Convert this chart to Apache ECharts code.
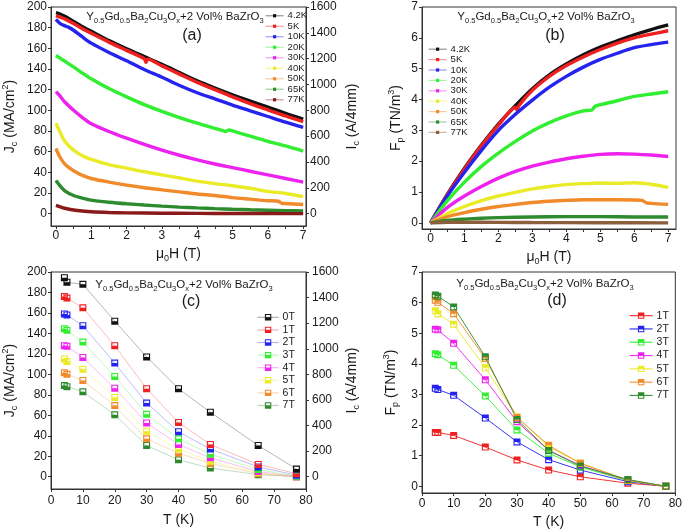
<!DOCTYPE html>
<html><head><meta charset="utf-8">
<script src="https://cdn.jsdelivr.net/npm/echarts@6/dist/echarts.min.js"></script>
<style>html,body{margin:0;padding:0;background:#fff}#c{width:685px;height:531px}</style>
</head><body><div id="c"></div>
<script>
// ---------- DATA ----------
// Panel (a): Jc (MA/cm2) vs mu0H (T), pairs [H, Jc]
const jcA_4K2 = [[0,194.5],[0.1,193.5],[0.25,191],[0.5,186],[0.75,181],[1,176.5],[1.5,167.5],[2,159.5],[2.5,152],[3,144.5],[3.5,136.5],[4,128.5],[4.5,121.5],[5,115],[5.5,109],[6,103],[6.5,97],[7,91.5]];
const jcA_5K = [[0,191.5],[0.1,190.5],[0.25,188.5],[0.5,184],[0.75,179],[1,174.5],[1.5,166],[2,158],[2.5,150],[2.55,146.5],[2.6,149.5],[3,143],[3.5,135],[4,127],[4.5,120],[5,113],[5.5,106.5],[6,100.5],[6.5,94.5],[7,89]];
const jcA_10K = [[0,188],[0.1,184.5],[0.2,182.5],[0.35,180.5],[0.5,177.5],[0.75,171],[1,165],[1.5,156],[2,148],[2.5,139.5],[3,132],[3.5,124],[4,117],[4.5,111],[5,105],[5.5,99.5],[6,94],[6.5,88.5],[7,83.5]];
const jcA_20K = [[0,153],[0.25,147.5],[0.5,142],[0.75,136],[1,130.5],[1.5,121],[2,113],[2.5,105.5],[3,99],[3.5,93],[4,87.5],[4.5,82.5],[4.75,80],[4.8,79.5],[4.9,81],[5,80],[5.5,75],[6,70],[6.5,65.5],[7,60.5]];
const jcA_30K = [[0,118],[0.1,114.5],[0.25,108],[0.5,100],[0.75,93],[1,87],[1.5,79.5],[2,73],[2.5,67],[3,61.5],[3.5,56.5],[4,52],[4.5,48],[5,44.5],[5.5,41],[6,37.5],[6.5,34],[7,30.5]];
const jcA_40K = [[0,87.5],[0.1,80],[0.25,70],[0.5,61.5],[0.75,56],[1,52.5],[1.5,47.5],[2,44],[2.5,40.5],[3,37.5],[3.5,34.5],[4,31.5],[4.5,29],[5,27],[5.5,24.5],[6,21.5],[6.5,19.5],[7,16.5]];
const jcA_50K = [[0,63],[0.1,55.5],[0.25,48],[0.5,41.5],[0.75,37],[1,34],[1.5,30.5],[2,27.5],[2.5,25],[3,23],[3.5,21],[4,19],[4.5,17.5],[5,15.5],[5.5,14],[6,12.5],[6.3,12],[6.4,10],[6.5,9.8],[7,8.8]];
const jcA_65K = [[0,32],[0.1,27.5],[0.25,22],[0.5,17.5],[0.75,15],[1,13],[1.5,11],[2,9.5],[2.5,8.3],[3,7.2],[3.5,6.3],[4,5.5],[4.5,4.8],[5,4.2],[5.5,3.7],[6,3.3],[6.5,2.9],[7,2.6]];
const jcA_77K = [[0,8],[0.1,6.8],[0.25,5.2],[0.5,3.5],[0.75,2.5],[1,1.8],[1.5,1.1],[2,0.7],[3,0.4],[4,0.2],[5,0.1],[6,0.05],[7,0]];

// Panel (b): Fp (TN/m3) vs mu0H (T)
const fpB_4K2 = [[0,0],[0.5,0.93],[1,1.77],[1.5,2.52],[2,3.2],[2.5,3.8],[3,4.35],[3.5,4.8],[4,5.15],[4.5,5.45],[5,5.7],[5.5,5.9],[6,6.1],[6.5,6.27],[7,6.42]];
const fpB_5K = [[0,0],[0.5,0.92],[1,1.75],[1.5,2.5],[2,3.17],[2.5,3.74],[2.55,3.66],[2.6,3.8],[3,4.3],[3.5,4.75],[4,5.1],[4.5,5.38],[5,5.62],[5.5,5.83],[6,6.0],[6.5,6.12],[7,6.23]];
const fpB_10K = [[0,0],[0.5,0.88],[1,1.64],[1.5,2.35],[2,3.0],[2.5,3.52],[3,3.98],[3.5,4.4],[4,4.75],[4.5,5.05],[5,5.3],[5.5,5.5],[6,5.68],[6.5,5.78],[7,5.86]];
const fpB_20K = [[0,0],[0.5,0.72],[1,1.32],[1.5,1.83],[2,2.26],[2.5,2.64],[3,2.98],[3.5,3.25],[4,3.47],[4.5,3.63],[4.75,3.66],[4.85,3.78],[5,3.83],[5.5,3.96],[6,4.1],[6.5,4.18],[7,4.25]];
const fpB_30K = [[0,0],[0.5,0.5],[1,0.87],[1.5,1.18],[2,1.45],[2.5,1.67],[3,1.84],[3.5,1.97],[4,2.08],[4.5,2.16],[5,2.22],[5.5,2.24],[6,2.23],[6.5,2.2],[7,2.15]];
const fpB_40K = [[0,0],[0.5,0.3],[1,0.53],[1.5,0.72],[2,0.87],[2.5,0.99],[3,1.1],[3.5,1.18],[4,1.24],[4.5,1.27],[5,1.29],[5.5,1.28],[6,1.3],[6.5,1.25],[7,1.15]];
const fpB_50K = [[0,0],[0.5,0.2],[1,0.33],[1.5,0.44],[2,0.53],[2.5,0.6],[3,0.66],[3.5,0.7],[4,0.73],[4.5,0.75],[5,0.75],[5.5,0.75],[6,0.74],[6.25,0.72],[6.35,0.65],[6.5,0.63],[7,0.6]];
const fpB_65K = [[0,0],[0.5,0.08],[1,0.12],[1.5,0.15],[2,0.17],[3,0.19],[4,0.2],[5,0.2],[6,0.19],[7,0.19]];
const fpB_77K = [[0,0],[0.5,0.02],[1,0.02],[2,0.015],[3,0.01],[5,0.005],[7,0]];

// Panels (c),(d): vs temperature
const temps = [4.2, 5, 10, 20, 30, 40, 50, 65, 77];
const jc0T = [194.5, 190, 188, 152, 117, 86, 63, 30.5, 7.5];
const jc1T = [176, 174.5, 165, 128, 86, 53, 31.5, 12, 3];
const jc2T = [159, 158, 147.5, 111, 72, 44, 27, 9.5, 1.5];
const jc3T = [144.5, 143, 131.5, 98, 61, 37, 22, 7, 0.5];
const jc4T = [128, 127.5, 116.5, 86.5, 52.5, 31.5, 18.5, 5, 0];
const jc5T = [115, 112.5, 105, 77.5, 44.5, 27, 15, 4, 0];
const jc6T = [101.5, 100, 94, 69.5, 37, 23, 13, 3, 0];
const jc7T = [89, 88, 83, 60.5, 30.5, 16.5, 8.5, 2, 0];

const fp1T = [1.76, 1.76, 1.66, 1.28, 0.86, 0.53, 0.31, 0.1, 0];
const fp2T = [3.2, 3.16, 2.97, 2.23, 1.45, 0.87, 0.53, 0.15, 0];
const fp3T = [4.33, 4.3, 3.95, 2.95, 1.84, 1.08, 0.63, 0.18, 0];
const fp4T = [5.13, 5.11, 4.67, 3.48, 2.11, 1.17, 0.68, 0.2, 0];
const fp5T = [5.73, 5.64, 5.29, 3.87, 2.27, 1.28, 0.76, 0.2, 0];
const fp6T = [6.08, 6.01, 5.64, 4.17, 2.25, 1.34, 0.75, 0.2, 0];
const fp7T = [6.25, 6.21, 5.86, 4.23, 2.18, 1.17, 0.66, 0.22, 0];

const tempNames = ['4.2K','5K','10K','20K','30K','40K','50K','65K','77K'];
const fieldNamesC = ['0T','1T','2T','3T','4T','5T','6T','7T'];
const fieldNamesD = ['1T','2T','3T','4T','5T','6T','7T'];
const jcTicks = [0,20,40,60,80,100,120,140,160,180,200];
const icTicks = [0,200,400,600,800,1000,1200,1400,1600];
const fpTicks = [0,1,2,3,4,5,6,7];
const hTicks = [0,1,2,3,4,5,6,7];
const hMinor = [0,0.5,1,1.5,2,2.5,3,3.5,4,4.5,5,5.5,6,6.5,7];
const tTicks = [0,10,20,30,40,50,60,70,80];

// ---------- STYLE ----------
const FONT = 'Liberation Sans';
const TXT = '#1a1a1a';
const colA = ['#111111','#ee2020','#2424ee','#30ee30','#ee22ee','#eaea26','#f08a2a','#2e8a2e','#8a1a1a'];
const colB = ['#111111','#ee2020','#2424ee','#30ee30','#ee22ee','#eaea26','#f08a2a','#2e8a2e','#8b5e3c'];
const colC = ['#111111','#ee2020','#2424ee','#30ee30','#ee22ee','#eaea26','#f08a2a','#2e8a2e'];
const colD = ['#ee2020','#2424ee','#30ee30','#ee22ee','#eaea26','#f08a2a','#2e8a2e'];

const rich = {
  n: {fontSize: 14, lineHeight: 18, fontFamily: FONT, color: TXT},
  s: {fontSize: 9, lineHeight: 9, verticalAlign: 'bottom', fontFamily: FONT, color: TXT},
  p: {fontSize: 9, lineHeight: 9, verticalAlign: 'top', fontFamily: FONT, color: TXT}
};
const richT = {
  n: {fontSize: 11.5, lineHeight: 15, fontFamily: FONT, color: TXT},
  s: {fontSize: 7.5, lineHeight: 7.5, verticalAlign: 'bottom', fontFamily: FONT, color: TXT}
};
const titleText = '{n|Y}{s|0.5}{n|Gd}{s|0.5}{n|Ba}{s|2}{n|Cu}{s|3}{n|O}{s|x}{n|+2 Vol% BaZrO}{s|3}';

const grids = [
  {left: 50, top: 7, width: 256, height: 219},
  {left: 422, top: 7, width: 254, height: 222},
  {left: 50, top: 272, width: 256, height: 217},
  {left: 422, top: 272, width: 254, height: 221}
].map(g => Object.assign(g, {show: true, borderColor: '#333', borderWidth: 1, backgroundColor: 'transparent', containLabel: false}));

function axis(gi, min, max, labels, ticks, margin, extra) {
  return Object.assign({
    type: 'value', gridIndex: gi, min: min, max: max,
    axisLine: {show: true, onZero: false, lineStyle: {color: '#333', width: 1}},
    axisTick: {show: true, length: 3, inside: false, customValues: ticks, lineStyle: {color: '#333'}},
    axisLabel: {show: true, customValues: labels, fontSize: 12, fontFamily: FONT, color: TXT, margin: margin,
      formatter: v => String(v)},
    splitLine: {show: false},
    nameLocation: 'middle'
  }, extra || {});
}

const xAxes = [
  axis(0, -0.14, 7.08, hTicks, hMinor, 4, {name: '{n|μ}{s|0}{n|H (T)}', nameGap: 19, nameTextStyle: {rich: rich}}),
  axis(1, -0.25, 7.23, hTicks, hMinor, 4, {name: '{n|μ}{s|0}{n|H (T)}', nameGap: 19, nameTextStyle: {rich: rich}}),
  axis(2, 0, 80, tTicks, tTicks, 6, {name: '{n|T (K)}', nameGap: 22, nameTextStyle: {rich: rich}}),
  axis(3, 0, 80, tTicks, tTicks, 5, {name: '{n|T (K)}', nameGap: 20, nameTextStyle: {rich: rich}})
];
const yAxes = [
  axis(0, -12, 200, jcTicks, jcTicks, 4, {name: '{n|J}{s|c}{n| (MA/cm}{p|2}{n|)}', nameGap: 32, nameRotate: 90, nameTextStyle: {rich: rich}}),
  axis(0, -96, 1600, icTicks, icTicks, 4, {position: 'right', name: '{n|I}{s|c}{n| (A/4mm)}', nameGap: 37, nameRotate: 90, nameTextStyle: {rich: rich}}),
  axis(1, -0.2, 7, fpTicks, fpTicks, 4, {name: '{n|F}{s|p}{n| (TN/m}{p|3}{n|)}', nameGap: 17, nameRotate: 90, nameTextStyle: {rich: rich}}),
  axis(2, -12, 200, jcTicks, jcTicks, 4, {name: '{n|J}{s|c}{n| (MA/cm}{p|2}{n|)}', nameGap: 32, nameRotate: 90, nameTextStyle: {rich: rich}}),
  axis(2, -96, 1600, icTicks, icTicks, 6, {position: 'right', name: '{n|I}{s|c}{n| (A/4mm)}', nameGap: 37, nameRotate: 90, nameTextStyle: {rich: rich}}),
  axis(3, -0.22, 7, fpTicks, fpTicks, 4, {name: '{n|F}{s|p}{n| (TN/m}{p|3}{n|)}', nameGap: 22, nameRotate: 90, nameTextStyle: {rich: rich}})
];

const series = [];
const seriesA = [jcA_4K2, jcA_5K, jcA_10K, jcA_20K, jcA_30K, jcA_40K, jcA_50K, jcA_65K, jcA_77K];
seriesA.forEach((d, i) => series.push({
  type: 'line', name: 'a|' + tempNames[i], xAxisIndex: 0, yAxisIndex: 0, data: d,
  showSymbol: false, symbol: 'rect', smooth: 0.25, color: colA[i],
  lineStyle: {width: 3.4, color: colA[i]}, itemStyle: {color: colA[i]}, silent: true
}));
const seriesB = [fpB_4K2, fpB_5K, fpB_10K, fpB_20K, fpB_30K, fpB_40K, fpB_50K, fpB_65K, fpB_77K];
seriesB.forEach((d, i) => series.push({
  type: 'line', name: 'b|' + tempNames[i], xAxisIndex: 1, yAxisIndex: 2, data: d,
  showSymbol: false, symbol: 'rect', smooth: 0.25, color: colB[i],
  lineStyle: {width: 3.4, color: colB[i]}, itemStyle: {color: colB[i]}, silent: true
}));
const symC = 'path://M0,0L10,0L10,10L0,10Z M1.6,1.6L1.6,5L8.4,5L8.4,1.6Z';
const symD = 'path://M0,0L10,0L10,10L0,10Z M1.6,5L1.6,8.4L8.4,8.4L8.4,5Z';
const seriesC = [jc0T, jc1T, jc2T, jc3T, jc4T, jc5T, jc6T, jc7T];
seriesC.forEach((v, i) => series.push({
  type: 'line', name: 'c|' + fieldNamesC[i], xAxisIndex: 2, yAxisIndex: 3,
  data: temps.map((t, k) => [t, v[k]]), symbol: symC, symbolSize: 7, color: colC[i],
  lineStyle: {width: 1, color: colC[i], opacity: 0.3}, itemStyle: {color: colC[i]}, silent: true, z: 10 - i
}));
const seriesD = [fp1T, fp2T, fp3T, fp4T, fp5T, fp6T, fp7T];
seriesD.forEach((v, i) => series.push({
  type: 'line', name: 'd|' + fieldNamesD[i], xAxisIndex: 3, yAxisIndex: 5,
  data: temps.map((t, k) => [t, v[k]]), symbol: symD, symbolSize: 7, color: colD[i],
  lineStyle: {width: 1, color: colD[i], opacity: 0.9}, itemStyle: {color: colD[i]}, silent: true
}));

function legend(prefix, names, left, top, w, h, rowH, fs, lineOpacity) {
  return {
    show: true, orient: 'vertical', left: left, top: top, itemWidth: w, itemHeight: h, itemGap: 0,
    selectedMode: false, padding: 0,
    data: names.map(n => prefix + n),
    formatter: s => s.slice(2),
    textStyle: {fontSize: fs, fontFamily: FONT, color: TXT, lineHeight: rowH, padding: [0,0,0,-1]},
    lineStyle: {width: 1.2, opacity: lineOpacity}
  };
}
const legends = [
  legend('a|', tempNames, 265, 10.5, 18, 4, 10.5, 9.5, 0.45),
  legend('b|', tempNames, 428, 44, 18, 4, 10.4, 9.5, 0.45),
  legend('c|', fieldNamesC, 257, 311, 21, 8, 12.6, 10.5, 0.35),
  legend('d|', fieldNamesD, 629, 309, 23, 8, 13.3, 10.5, 0.9)
];

function txt(x, y, text, r) {
  return {type: 'text', x: x, y: y, silent: true,
    style: {text: text, rich: r, textAlign: 'center', textVerticalAlign: 'middle', fontFamily: FONT, fill: TXT}};
}
const lbl = {n: {fontSize: 16, fontFamily: FONT, color: TXT}};
const graphics = [
  txt(175, 17, titleText, richT), txt(192, 36, '{n|(a)}', lbl),
  txt(546, 17, titleText, richT), txt(555, 36, '{n|(b)}', lbl),
  txt(184, 285, titleText, richT), txt(191, 302, '{n|(c)}', lbl),
  txt(545, 284, titleText, richT), txt(557, 301, '{n|(d)}', lbl)
];

const chart = echarts.init(document.getElementById('c'), null, {renderer: 'canvas'});
chart.setOption({
  animation: false,
  backgroundColor: '#ffffff',
  textStyle: {fontFamily: FONT},
  grid: grids,
  xAxis: xAxes,
  yAxis: yAxes,
  legend: legends,
  graphic: graphics,
  series: series
});
</script></body></html>
